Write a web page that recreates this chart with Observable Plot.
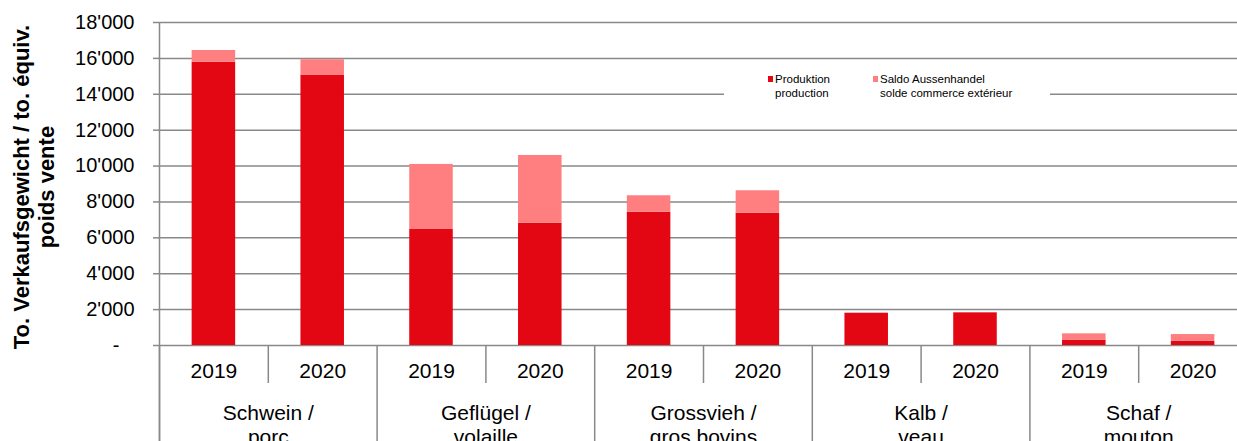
<!DOCTYPE html>
<html>
<head>
<meta charset="utf-8">
<script src="https://cdn.jsdelivr.net/npm/d3@7"></script>
<script src="https://cdn.jsdelivr.net/npm/@observablehq/plot@0.6"></script>
<style>
  html, body { margin: 0; padding: 0; background: #fff; overflow: hidden; }
  #wrap { position: relative; width: 1237px; height: 441px; font-family: "Liberation Sans", Arial, sans-serif; }
  #wrap svg { display: block; }
  .legend { position: absolute; left: 724px; top: 66px; width: 326px; height: 40px; background: #fff; font-size: 11.5px; line-height: 14px; color: #000; }
  .sw { position: absolute; width: 5.5px; height: 5.5px; top: 10px; }
  .tx { position: absolute; top: 6px; white-space: nowrap; }
</style>
</head>
<body>
<div id="wrap"></div>
<script>
// ---- data ----
const categories = [["Schwein /", "porc"], ["Geflügel /", "volaille"], ["Grossvieh /", "gros bovins"], ["Kalb /", "veau"], ["Schaf /", "mouton"]];
const years = ["2019", "2020"];
const produktion = [15790, 15070, 6466, 6818, 7430, 7375, 1800, 1820, 300, 240];
const saldo = [650, 855, 3624, 3772, 914, 1248, 0, 0, 350, 370];
const seriesNames = ["Produktion", "Saldo Aussenhandel"];
const seriesLabels = [["Produktion", "production"], ["Saldo Aussenhandel", "solde commerce extérieur"]];
const seriesColors = ["#e30613", "#ff7f80"];
const yTicks = [0, 2000, 4000, 6000, 8000, 10000, 12000, 14000, 16000, 18000];
const yTitle = "To. Verkaufsgewicht / to. équiv.\npoids vente";

// ---- table built from the arrays ----
const rows = [];
categories.forEach((c, ci) => years.forEach((yr, yi) => {
  const i = ci * 2 + yi;
  rows.push({i, year: yr, s: seriesNames[0], y1: 0, y2: produktion[i]});
  rows.push({i, year: yr, s: seriesNames[1], y1: produktion[i], y2: produktion[i] + saldo[i]});
}));
const bars = rows.filter(d => d.s === seriesNames[0]);
const catBounds = d3.range(0, categories.length * 2 + 1, 2);
const yearBounds = d3.range(1, categories.length * 2, 2);

const fmt = v => v === 0 ? "-\u2007\u2009" : d3.format(",")(v).replace(/,/g, "'");
const grid = "#898989";

const chart = Plot.plot({
  width: 1237,
  height: 441,
  marginLeft: 159,
  marginRight: -10,
  marginTop: 22,
  marginBottom: 96,
  style: {fontFamily: "'Liberation Sans', Arial, sans-serif", background: "transparent", overflow: "hidden"},
  x: {type: "linear", domain: [0, categories.length * 2], axis: null},
  y: {domain: [0, 18000], axis: null},
  color: {domain: seriesNames, range: seriesColors},
  marks: [
    Plot.ruleY(yTicks, {stroke: grid, strokeWidth: 1.5}),
    Plot.axisY({ticks: yTicks, tickSize: 6, tickPadding: 19, tickFormat: fmt, stroke: grid, strokeWidth: 1.5, fill: "#000", fontSize: 20, label: null}),
    Plot.rectY(rows, {x1: d => d.i + 0.3, x2: d => d.i + 0.7, y1: "y1", y2: "y2", fill: "s"}),
    Plot.ruleX([0], {stroke: grid, strokeWidth: 1.5, insetBottom: -96}),
    Plot.ruleX(catBounds, {stroke: grid, strokeWidth: 1.5, insetTop: 323, insetBottom: -96}),
    Plot.ruleX(yearBounds, {stroke: grid, strokeWidth: 1.5, insetTop: 323, insetBottom: -38}),
    Plot.text(bars, {x: d => d.i + 0.5, text: "year", frameAnchor: "bottom", lineAnchor: "top", dy: 17.5, fontSize: 21, fill: "#000"}),
    Plot.text(categories, {x: (d, ci) => ci * 2 + 1, text: d => d.join("\n"), frameAnchor: "bottom", lineAnchor: "top", dy: 57, fontSize: 21, lineHeight: 1.15, fill: "#000"}),
    Plot.text([yTitle], {text: d => d, frameAnchor: "left", textAnchor: "middle", rotate: -90, dx: -126, dy: 3, fontSize: 22, fontWeight: "bold", lineHeight: 1.15, fill: "#000"})
  ]
});

const wrap = document.getElementById("wrap");
wrap.appendChild(chart);

// legend overlay (inside the plot area, as in the reference)
const legend = document.createElement("div");
legend.className = "legend";
const offsets = [43.5, 148.5];
seriesNames.forEach((s, k) => {
  const sw = document.createElement("span");
  sw.className = "sw";
  sw.style.left = offsets[k] + "px";
  sw.style.background = seriesColors[k];
  legend.appendChild(sw);
  const tx = document.createElement("span");
  tx.className = "tx";
  tx.style.left = (offsets[k] + 7.5) + "px";
  tx.innerHTML = seriesLabels[k].join("<br>");
  legend.appendChild(tx);
});
wrap.appendChild(legend);
</script>
</body>
</html>
